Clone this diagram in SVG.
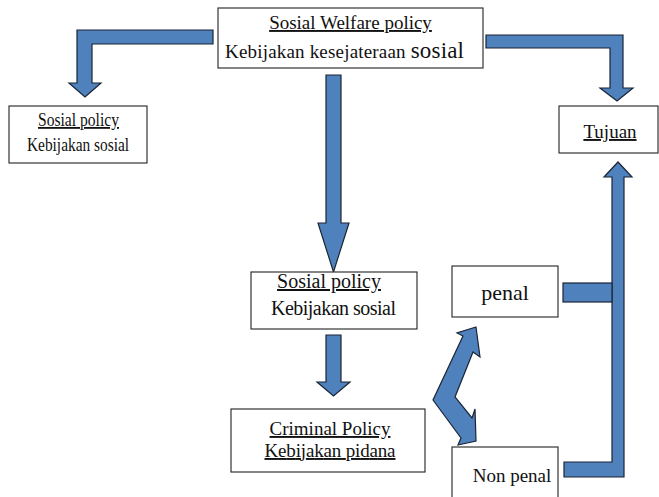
<svg xmlns="http://www.w3.org/2000/svg" width="659" height="497" viewBox="0 0 659 497">
<style>
  .box { fill: #ffffff; stroke: #222222; stroke-width: 1.1; }
  .arrow { fill: #4f81bd; stroke: #1b2535; stroke-width: 1.2; stroke-linejoin: miter; }
  text { fill: #111111; text-anchor: middle; }
  .u { text-decoration: underline; }
</style>
<rect width="659" height="497" fill="#ffffff"/>

<g id="connectors">
  <polygon class="arrow" points="213,30 77,30 77,83 69,83 85,97 101,83 92,83 92,44 213,44"/>
  <polygon class="arrow" points="486,35 623,35 623,88 633,88 617,101 600,88 610,88 610,48 486,48"/>
  <polygon class="arrow" points="326,75 341,75 341,223 349,223 333.5,272 318,223 326,223"/>
  <polygon class="arrow" points="326,335 341,335 341,382 350,382 333.5,396 317,382 326,382"/>
  <polygon class="arrow" points="564,462 612,462 612,177 604,177 618,162 632,177 624,177 624,477 564,477"/>
  <rect class="arrow" x="563" y="283" width="49" height="19"/>
  <polygon class="arrow" points="476,327 480,357 473,352 455,397 472,418 475,409 476,441 458,445 461,438 433,400 463,336 457,333"/>
</g>

<g font-family="'Liberation Serif', Tinos, 'Times New Roman', 'DejaVu Serif', serif">
<g id="node-welfare">
  <rect class="box" x="218" y="8" width="265" height="60"/>
  <text class="u" x="350.5" y="29" font-size="19">Sosial Welfare policy</text>
  <text x="344.5" y="58" font-size="19" textLength="239">Kebijakan kesejateraan <tspan font-size="23">sosial</tspan></text>
</g>

<g id="node-sosial-left">
  <rect class="box" x="9" y="106" width="138" height="57"/>
  <text class="u" x="78.5" y="126" font-size="18" textLength="81" lengthAdjust="spacingAndGlyphs">Sosial policy</text>
  <text x="78" y="151" font-size="18" textLength="102" lengthAdjust="spacingAndGlyphs">Kebijakan sosial</text>
</g>

<g id="node-tujuan">
  <rect class="box" x="559" y="106" width="99" height="47"/>
  <text class="u" x="610" y="138" font-size="19">Tujuan</text>
</g>

<g id="node-sosial-mid">
  <rect class="box" x="251" y="272" width="166" height="57"/>
  <text class="u" x="329" y="288" font-size="20">Sosial policy</text>
  <text x="333.5" y="315" font-size="20" textLength="125">Kebijakan sosial</text>
</g>

<g id="node-criminal">
  <rect class="box" x="231" y="409" width="194" height="63"/>
  <text class="u" x="330" y="435" font-size="19">Criminal Policy</text>
  <text class="u" x="330" y="457" font-size="19" textLength="131">Kebijakan pidana</text>
</g>

<g id="node-penal">
  <rect class="box" x="452" y="266" width="106" height="51"/>
  <text x="505" y="300" font-size="22">penal</text>
</g>

<g id="node-nonpenal">
  <rect class="box" x="452" y="447" width="106" height="60"/>
  <text x="512" y="482" font-size="19">Non penal</text>
</g>
</g>
</svg>
